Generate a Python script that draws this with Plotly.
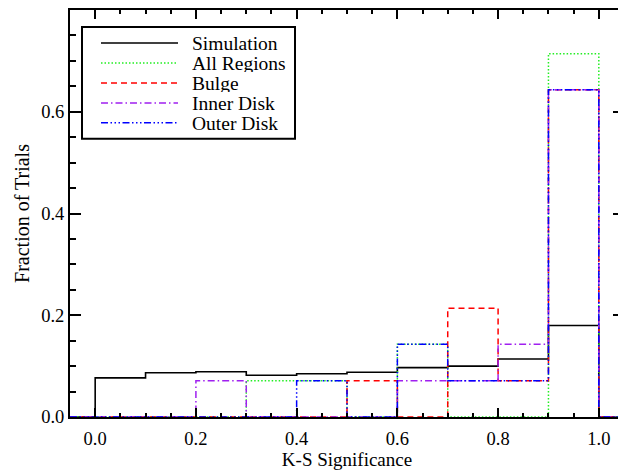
import plotly.graph_objects as go

# ---------------- data ----------------
bin_left = [0.0, 0.1, 0.2, 0.3, 0.4, 0.5, 0.6, 0.7, 0.8, 0.9]
bin_width = 0.1
simulation = [0.077, 0.087, 0.089, 0.082, 0.085, 0.088, 0.097, 0.100, 0.114, 0.180]
all_regions = [0.0, 0.0, 0.0, 0.0714, 0.0714, 0.0, 0.143, 0.0, 0.0, 0.714]
bulge = [0.0, 0.0, 0.0, 0.0, 0.0, 0.0714, 0.0, 0.214, 0.0714, 0.643]
inner_disk = [0.0, 0.0, 0.0714, 0.0, 0.0, 0.0, 0.0714, 0.0714, 0.143, 0.643]
outer_disk = [0.0, 0.0, 0.0, 0.0, 0.0714, 0.0, 0.143, 0.0714, 0.0714, 0.643]

series_names = ["Simulation", "All Regions", "Bulge", "Inner Disk", "Outer Disk"]
series_values = [simulation, all_regions, bulge, inner_disk, outer_disk]

# ---------------- styles ----------------
colors = ["#000000", "#22ee22", "#ff0000", "#a020f0", "#0000ff"]
dashes = ["solid", "1.5px,2px", "6px,4px", "7px,3px,1.5px,3px",
          "7px,2.5px,1.5px,2.5px,1.5px,2.5px,1.5px,2.5px"]
widths = [1.6, 1.5, 1.5, 1.5, 1.5]

X_MIN, X_MAX = -0.05, 1.05
Y_MIN, Y_MAX = 0.0, 0.8
FONT = "Liberation Serif"

fig = go.Figure()

for name, vals, c, d, w in zip(series_names, series_values, colors, dashes, widths):
    xs = [X_MIN] + list(bin_left) + [bin_left[-1] + bin_width, X_MAX]
    ys = [0.0] + list(vals) + [0.0, 0.0]
    fig.add_trace(go.Scatter(
        x=xs, y=ys, mode="lines", name=name,
        line=dict(color=c, dash=d, width=w, shape="hv"),
        showlegend=False, cliponaxis=True,
    ))

# ---------------- geometry (page has an 8px body margin) ----------------
OFF = 8
W, H = 618, 462
L, T = 62, 2
PW, PH = 554, 407.5
R = W - L - PW
B = H - T - PH


def px(x_screen):
    return (x_screen - OFF - L) / PW


def py(y_screen):
    return (T + PH - (y_screen - OFF)) / PH


# ---------------- custom legend (IDL style) ----------------
shapes = [dict(type="rect", xref="paper", yref="paper",
               x0=px(82), x1=px(295), y0=py(139), y1=py(27),
               line=dict(color="black", width=2), fillcolor="white", layer="above")]
annotations = []
for i, (name, c, d, w) in enumerate(zip(series_names, colors, dashes, widths)):
    yy = 43 + 20 * i
    shapes.append(dict(type="line", xref="paper", yref="paper",
                       x0=px(101), x1=px(178), y0=py(yy), y1=py(yy),
                       line=dict(color=c, dash=d, width=w), layer="above"))
    annotations.append(dict(xref="paper", yref="paper", x=px(190), y=py(yy),
                            text=name, showarrow=False, xanchor="left", yanchor="middle",
                            height=18, valign="middle",
                            font=dict(family=FONT, size=19.5, color="black")))

axis_common = dict(
    showline=True, linecolor="black", linewidth=2, mirror="ticks",
    ticks="inside", tickwidth=1.5, tickcolor="black",
    showgrid=False, zeroline=False, automargin=False,
    tickfont=dict(family=FONT, size=18.5, color="black"),
    tickformat=".1f", dtick=0.2, tick0=0.0,
)

fig.update_layout(
    width=W, height=H,
    margin=dict(l=L, r=R, t=T, b=B, pad=0),
    paper_bgcolor="white", plot_bgcolor="white",
    xaxis=dict(range=[X_MIN, X_MAX], ticklen=9, ticklabelstandoff=4,
               minor=dict(ticks="inside", ticklen=4, tickwidth=1.5, tickcolor="black",
                          dtick=0.05, showgrid=False),
               title=dict(text="K-S Significance", font=dict(family=FONT, size=19, color="black"),
                          standoff=5),
               **axis_common),
    yaxis=dict(range=[Y_MIN, Y_MAX], ticklen=11,
               minor=dict(ticks="inside", ticklen=6, tickwidth=1.5, tickcolor="black",
                          dtick=0.05, showgrid=False),
               title=dict(text="Fraction of Trials", font=dict(family=FONT, size=20, color="black"),
                          standoff=6),
               **axis_common),
    shapes=shapes, annotations=annotations,
    showlegend=False,
)

fig.write_html("out.html")
